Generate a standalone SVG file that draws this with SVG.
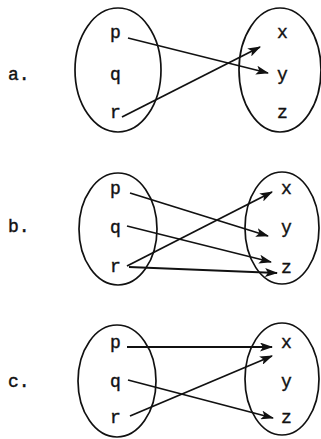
<svg xmlns="http://www.w3.org/2000/svg" width="321" height="439" viewBox="0 0 321 439">
<style>
text{font-family:"Liberation Mono","Courier New",monospace;font-size:18px;fill:#111;stroke:#111;stroke-width:0.4}
.set{fill:none;stroke:#111;stroke-width:1.7}
.arr{fill:none;stroke:#111;stroke-width:1.8;marker-end:url(#ah)}
</style>
<defs>
<marker id="ah" viewBox="0 0 13 9" refX="12" refY="4.5" markerWidth="13" markerHeight="9" markerUnits="userSpaceOnUse" orient="auto">
<path d="M0,0 L13,4.5 L0,9 L3,4.5 Z" fill="#111"/>
</marker>
</defs>
<rect width="321" height="439" fill="#fff"/>
<g id="panel-a">
<text x="8" y="80">a.</text>
<g id="a-domain"><ellipse class="set" cx="118" cy="70" rx="43" ry="62"/>
<text x="110" y="38">p</text><text x="110" y="80">q</text><text x="110" y="118">r</text></g>
<g id="a-codomain"><ellipse class="set" cx="280" cy="70" rx="41" ry="62"/>
<text x="277" y="38">x</text><text x="277" y="80">y</text><text x="277" y="118">z</text></g>
</g>
<g id="panel-b">
<text x="8" y="232">b.</text>
<g id="b-domain"><ellipse class="set" cx="118" cy="229" rx="39" ry="56"/>
<text x="110" y="194">p</text><text x="110" y="233">q</text><text x="110" y="272">r</text></g>
<g id="b-codomain"><ellipse class="set" cx="282" cy="228" rx="37" ry="56"/>
<text x="281" y="194">x</text><text x="281" y="233">y</text><text x="281" y="273">z</text></g>
</g>
<g id="panel-c">
<text x="8" y="387">c.</text>
<g id="c-domain"><ellipse class="set" cx="117" cy="381" rx="39" ry="56"/>
<text x="110" y="348">p</text><text x="110" y="387">q</text><text x="110" y="423">r</text></g>
<g id="c-codomain"><ellipse class="set" cx="282" cy="379" rx="37" ry="56"/>
<text x="281" y="348">x</text><text x="281" y="387">y</text><text x="281" y="423">z</text></g>
</g>
<g id="connectors">
<line class="arr" x1="128" y1="38" x2="268" y2="73"/>
<line class="arr" x1="122" y1="117" x2="260" y2="47"/>
<line class="arr" x1="130" y1="193" x2="268" y2="236"/>
<line class="arr" x1="127" y1="266" x2="272" y2="192"/>
<line class="arr" x1="127" y1="226" x2="271" y2="262"/>
<line class="arr" x1="129" y1="267" x2="277" y2="273"/>
<line class="arr" x1="127" y1="347" x2="272" y2="347"/>
<line class="arr" x1="130" y1="416" x2="272" y2="356"/>
<line class="arr" x1="128" y1="380" x2="273" y2="418"/>
</g>
</svg>
